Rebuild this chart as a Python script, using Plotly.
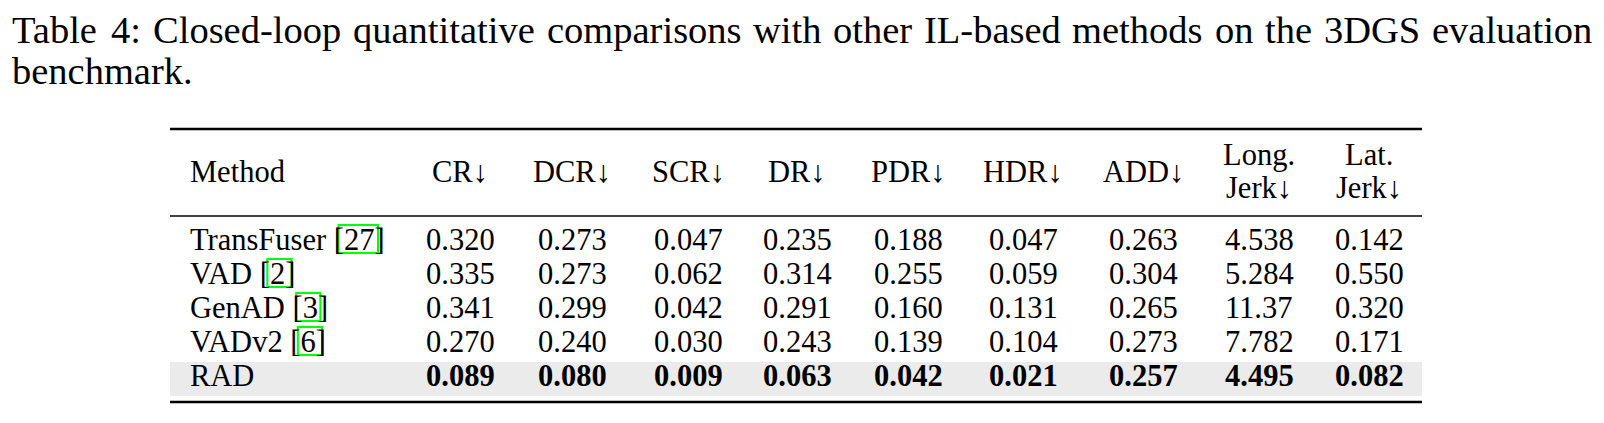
import plotly.graph_objects as go

# ---------------- data ----------------
caption_line1 = "Table 4: Closed-loop quantitative comparisons with other IL-based methods on the 3DGS evaluation"
caption_line2 = "benchmark."

methods = ["TransFuser", "VAD", "GenAD", "VADv2", "RAD"]
citations = ["27", "2", "3", "6", ""]
header_top = ["", "", "", "", "", "", "", "Long.", "Lat."]
header_bottom = ["CR↓", "DCR↓", "SCR↓", "DR↓", "PDR↓", "HDR↓", "ADD↓", "Jerk↓", "Jerk↓"]

cr = [0.320, 0.335, 0.341, 0.270, 0.089]
dcr = [0.273, 0.273, 0.299, 0.240, 0.080]
scr = [0.047, 0.062, 0.042, 0.030, 0.009]
dr = [0.235, 0.314, 0.291, 0.243, 0.063]
pdr = [0.188, 0.255, 0.160, 0.139, 0.042]
hdr = [0.047, 0.059, 0.131, 0.104, 0.021]
add = [0.263, 0.304, 0.265, 0.273, 0.257]
long_jerk = [4.538, 5.284, 11.37, 7.782, 4.495]
lat_jerk = [0.142, 0.550, 0.320, 0.171, 0.082]
bold_row = [False, False, False, False, True]
shaded_row = [False, False, False, False, True]

columns = [cr, dcr, scr, dr, pdr, hdr, add, long_jerk, lat_jerk]

# ---------------- layout constants ----------------
W, H = 1604, 423
PAGE_MARGIN = 8  # default body margin of the html page
FONT = "Liberation Serif, Times New Roman, serif"
CAP_SIZE = 38.5
TAB_SIZE = 30.5
BASE_OFF = 0.3375  # baseline offset from text-box middle (in em)

cap_x0, cap_x1 = 10, 1590
cap_base = [43, 83.5]

tab_left, tab_right = 170, 1422
method_x = 188
col_x = [460, 572, 688, 797, 908, 1023, 1143, 1259, 1369]
rule_top, rule_mid, rule_bot = 129, 216, 402
head_base_single = 182
head_base_two = [165, 198]
row_base0, row_step = 250, 34
shade_top, shade_bot = 362, 396

# Times-Roman advance widths (1/1000 em)
tw = {" ": 250, "-": 333, ".": 250, ":": 278, "[": 333, "]": 333,
      "A": 722, "B": 667, "C": 667, "D": 722, "E": 611, "F": 556, "G": 722, "H": 722,
      "I": 333, "J": 389, "K": 722, "L": 611, "M": 889, "N": 722, "O": 722, "P": 556,
      "Q": 722, "R": 667, "S": 556, "T": 611, "U": 722, "V": 722, "W": 944, "X": 722,
      "Y": 722, "Z": 611,
      "a": 444, "b": 500, "c": 444, "d": 500, "e": 444, "f": 333, "g": 500, "h": 500,
      "i": 278, "j": 278, "k": 500, "l": 278, "m": 778, "n": 500, "o": 500, "p": 500,
      "q": 500, "r": 333, "s": 389, "t": 278, "u": 500, "v": 500, "w": 722, "x": 500,
      "y": 500, "z": 444}
for d in "0123456789":
    tw[d] = 500


def text_w(s, size):
    return sum(tw.get(c, 500) for c in s) * size / 1000.0


def mid_y(baseline, size):
    return baseline - BASE_OFF * size


annotations = []
shapes = []


def add_text(x, baseline, text, size, anchor="left", bold=False):
    t = f"<b>{text}</b>" if bold else text
    annotations.append(dict(x=x, y=mid_y(baseline, size), text=t, showarrow=False,
                            xanchor=anchor, yanchor="middle", xref="x", yref="y",
                            font=dict(family=FONT, size=size, color="black")))


# caption line 1: justified word by word (as in the typeset original)
words = caption_line1.split(" ")
natural = sum(text_w(w, CAP_SIZE) for w in words)
gap = (cap_x1 - cap_x0 - natural) / (len(words) - 1)
x = cap_x0
for w in words:
    add_text(x, cap_base[0], w, CAP_SIZE)
    x += text_w(w, CAP_SIZE) + gap
add_text(cap_x0, cap_base[1], caption_line2, CAP_SIZE)

# shaded row(s)
for i, sh in enumerate(shaded_row):
    if sh:
        shapes.append(dict(type="rect", xref="x", yref="y", x0=tab_left, x1=tab_right,
                           y0=shade_top, y1=shade_bot, fillcolor="#ebebeb",
                           line=dict(width=0), layer="below"))

# booktabs rules
for y, lw in [(rule_top, 2.6), (rule_mid, 1.6), (rule_bot, 2.6)]:
    shapes.append(dict(type="line", xref="x", yref="y", x0=tab_left, x1=tab_right,
                       y0=y, y1=y, line=dict(color="black", width=lw)))

# header
add_text(method_x, head_base_single, "Method", TAB_SIZE)
for j, cx in enumerate(col_x):
    if header_top[j]:
        add_text(cx, head_base_two[0], header_top[j], TAB_SIZE, anchor="center")
        add_text(cx, head_base_two[1], header_bottom[j], TAB_SIZE, anchor="center")
    else:
        add_text(cx, head_base_single, header_bottom[j], TAB_SIZE, anchor="center")


def fmt(v):
    return f"{v:.2f}" if v >= 10 else f"{v:.3f}"


# body
for i, m in enumerate(methods):
    base = row_base0 + i * row_step
    label = m + (f" [{citations[i]}]" if citations[i] else "")
    add_text(method_x, base, label, TAB_SIZE)
    if citations[i]:
        pre = m + " ["
        x0 = method_x + text_w(pre, TAB_SIZE) - 4.5
        x1 = method_x + text_w(pre + citations[i], TAB_SIZE) + 4.5
        shapes.append(dict(type="rect", xref="x", yref="y", x0=x0, x1=x1,
                           y0=base - 25, y1=base + 3, fillcolor="rgba(0,0,0,0)",
                           line=dict(color="#00ff00", width=2)))
    for j, col in enumerate(columns):
        add_text(col_x[j], base, fmt(col[i]), TAB_SIZE, anchor="center", bold=bold_row[i])

fig = go.Figure()
fig.update_layout(
    width=W - 2 * PAGE_MARGIN, height=H - 2 * PAGE_MARGIN,
    margin=dict(l=0, r=0, t=0, b=0),
    paper_bgcolor="white", plot_bgcolor="white",
    xaxis=dict(range=[PAGE_MARGIN, W - PAGE_MARGIN], visible=False, fixedrange=True),
    yaxis=dict(range=[H - PAGE_MARGIN, PAGE_MARGIN], visible=False, fixedrange=True),
    annotations=annotations, shapes=shapes, showlegend=False,
)
fig.write_html("out.html", config={"displayModeBar": False})
